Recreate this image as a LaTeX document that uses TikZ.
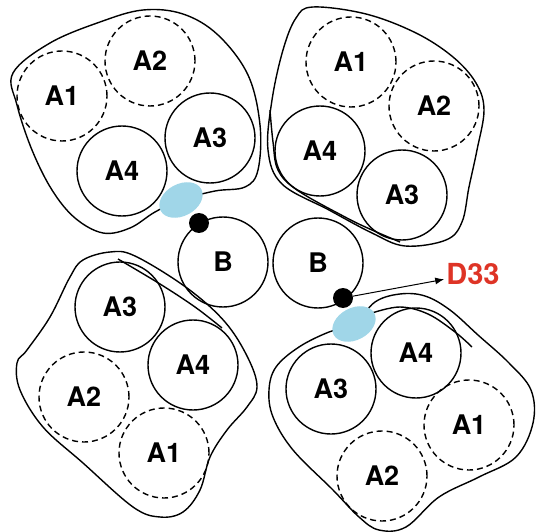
\documentclass[tikz,border=0pt]{standalone}
\usepackage{fontspec}
\newfontfamily\labelfont{TeX Gyre Heros}
\usetikzlibrary{arrows.meta,shapes.geometric}

\definecolor{bondblue}{RGB}{160,214,232}
\definecolor{labelred}{RGB}{222,52,38}

\begin{document}
\begin{tikzpicture}[
  x=1pt,y=-1pt,
  unit/.style={circle,draw=black,line width=1.4pt,minimum size=90pt,inner sep=0pt,
               font=\labelfont\bfseries\fontsize{27}{27}\selectfont},
  present/.style={unit},
  absent/.style={unit,dash pattern=on 6pt off 4pt},
  site/.style={circle,fill=black,minimum size=20pt,inner sep=0pt},
  contact/.style={ellipse,fill=bondblue,minimum width=46pt,minimum height=32pt,
                  inner sep=0pt,rotate=28},
  hull/.style={draw=black,line width=1.4pt},
  pointer/.style={-{Latex[length=9pt,width=7pt]},line width=1pt}
]
\useasboundingbox (0,0) rectangle (536,532);

% outer hulls
\draw[hull] plot[smooth cycle,tension=0.6] coordinates {
  (181,200) (215,191) (245,187) (258,170) (260,125) (248,75) (218,35)
  (183,14) (143,10) (100,22) (50,43) (13,73) (17,105) (32,150) (52,190)
  (75,218) (103,233) (130,228) (155,212)};
\draw[hull] plot[smooth cycle,tension=0.6] coordinates {
  (313,7) (366,14) (416,33) (453,57) (476,83) (484,110) (477,150) (469,187)
  (462,222) (446,240) (405,246) (372,233) (329,210) (282,184) (268,150)
  (272,100) (283,50) (296,18)};
\draw[hull] plot[smooth,tension=0.6] coordinates {
  (270,110) (273,142) (278,170) (297,190) (345,217) (372,230) (400,242)};
\draw[hull] plot[smooth cycle,tension=0.6] coordinates {
  (110,252) (135,256) (187,288) (225,322) (248,358) (257,387) (247,407)
  (227,430) (210,457) (200,490) (183,512) (160,517) (133,507) (83,463)
  (43,427) (20,390) (17,363) (27,350) (50,317) (70,277) (83,260)};
\draw[hull] plot[smooth,tension=0.6] coordinates {
  (118,259) (160,284) (195,307) (222,328)};
\draw[hull] plot[smooth cycle,tension=0.6] coordinates {
  (354,325) (329,332) (299,347) (276,367) (269,390) (273,417) (293,450)
  (333,490) (359,517) (379,530) (406,527) (439,497) (479,477) (516,457)
  (533,423) (531,390) (509,363) (478,335) (450,310) (425,296) (400,294)
  (375,302)};
\draw[hull] plot[smooth,tension=0.6] coordinates {
  (372,313) (400,307) (428,314) (455,332) (472,347)};

% top left group
\node[absent]  (tlA1) at (62,96)   {A1};
\node[absent]  (tlA2) at (150,61)  {A2};
\node[present] (tlA3) at (210,138) {A3};
\node[present] (tlA4) at (122,171) {A4};
\node[contact] (tlContact) at (181,200) {};

% top right group
\node[absent]  (trA1) at (351,62)  {A1};
\node[absent]  (trA2) at (434,106) {A2};
\node[present] (trA3) at (402,195) {A3};
\node[present] (trA4) at (320,151) {A4};

% bottom left group
\node[absent]  (blA1) at (164,453) {A1};
\node[absent]  (blA2) at (84,397)  {A2};
\node[present] (blA3) at (120,307) {A3};
\node[present] (blA4) at (193,365) {A4};

% bottom right group
\node[absent]  (brA1) at (469,425) {A1};
\node[absent]  (brA2) at (382,476) {A2};
\node[present] (brA3) at (331,389) {A3};
\node[present] (brA4) at (416,353) {A4};
\node[contact] (brContact) at (354,324) {};

% partners
\node[present] (tlB) at (223,262) {B};
\node[present] (brB) at (318,263) {B};
\node[site] (tlSite) at (199,223) {};
\node[site] (brSite) at (343,298) {};

\node[font=\labelfont\bfseries\fontsize{29}{29}\selectfont,text=labelred,inner sep=2pt]
  (d33) at (473,274) {D33};
\draw[pointer] (brSite) -- (d33);
\end{tikzpicture}
\end{document}
